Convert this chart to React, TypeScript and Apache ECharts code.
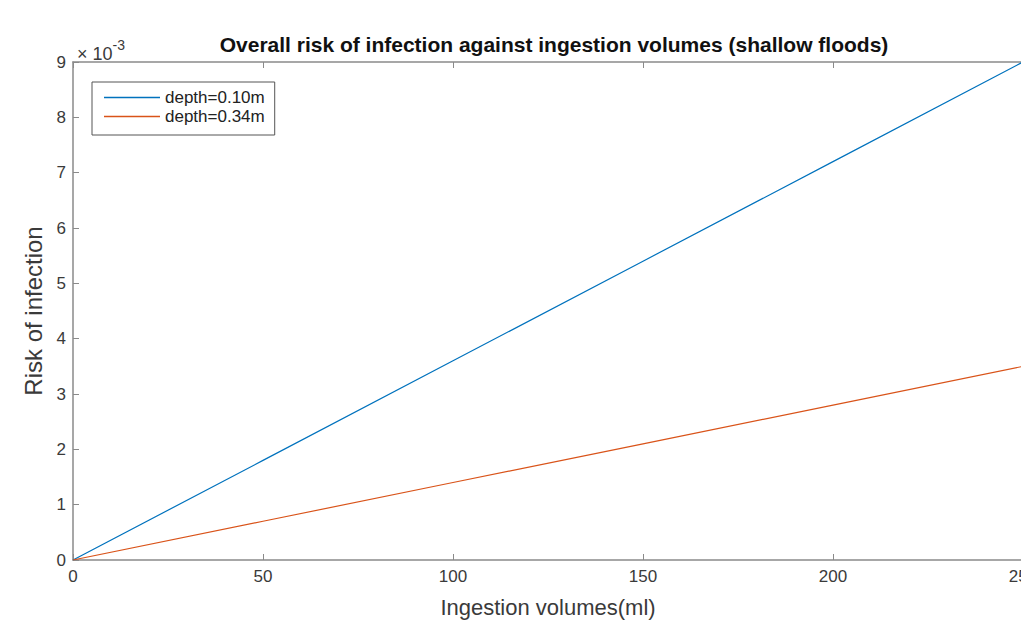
import React, { useEffect, useRef } from "react";
import * as echarts from "echarts";

const volumes = [0, 50, 100, 150, 200, 250];
const risk010 = [0, 1.8, 3.6, 5.4, 7.2, 9.0]; // ×10^-3
const risk034 = [0, 0.7, 1.4, 2.1, 2.8, 3.5]; // ×10^-3
const seriesNames = ["depth=0.10m", "depth=0.34m"];
const titleText = "Overall risk of infection against ingestion volumes (shallow floods)";

const FONT = "'Liberation Sans', Arial, Helvetica, sans-serif";
const AXIS = "#8a8a8a";
const LABEL = "#3a3a3a";

export default function App() {
  const ref = useRef<HTMLDivElement>(null);
  useEffect(() => {
    const chart = echarts.init(ref.current!, undefined, { renderer: "svg" });
    const toPairs = (ys: number[]) => volumes.map((v, i) => [v, ys[i]]);
    chart.setOption({
      animation: false,
      backgroundColor: "#ffffff",
      textStyle: { fontFamily: FONT },
      title: {
        text: titleText,
        left: 549,
        textAlign: "center",
        top: 29,
        textStyle: { fontFamily: FONT, fontSize: 21, fontWeight: "bold", color: "#111" },
      },
      grid: { left: 73, top: 62, width: 950, height: 498, containLabel: false },
      legend: {
        left: 92,
        top: 82,
        orient: "vertical",
        data: seriesNames,
        icon: "rect",
        itemWidth: 56,
        itemHeight: 1.5,
        itemGap: 2,
        padding: [7, 10, 10, 12],
        borderColor: "#555",
        borderWidth: 1,
        backgroundColor: "#fff",
        textStyle: { fontFamily: FONT, fontSize: 17, color: "#222" },
      },
      graphic: [
        {
          type: "text",
          left: 77,
          top: 38,
          style: {
            text: "{a|× 10}{b|-3}",
            fill: LABEL,
            font: `18px ${FONT}`,
            rich: {
              a: { fontFamily: FONT, fontSize: 18, fill: LABEL, verticalAlign: "bottom", padding: [7, 0, 0, 0] },
              b: { fontFamily: FONT, fontSize: 14, fill: LABEL, verticalAlign: "top" },
            },
          },
        },
      ],
      xAxis: [
        {
          type: "value",
          min: 0,
          max: 250,
          interval: 50,
          name: "Ingestion volumes(ml)",
          nameLocation: "middle",
          nameGap: 36,
          nameTextStyle: { fontFamily: FONT, fontSize: 22, color: LABEL },
          axisLine: { show: true, onZero: false, lineStyle: { color: AXIS, width: 1.5 } },
          axisTick: { show: true, inside: true, length: 6, lineStyle: { color: AXIS } },
          axisLabel: { margin: 8, fontSize: 17, color: LABEL, fontFamily: FONT },
          splitLine: { show: false },
        },
        {
          type: "value",
          position: "top",
          min: 0,
          max: 250,
          interval: 50,
          axisLine: { show: true, onZero: false, lineStyle: { color: AXIS, width: 1.5 } },
          axisTick: { show: true, inside: true, length: 6, lineStyle: { color: AXIS } },
          axisLabel: { show: false },
          splitLine: { show: false },
        },
      ],
      yAxis: [
        {
          type: "value",
          min: 0,
          max: 9,
          interval: 1,
          name: "Risk of infection",
          nameLocation: "middle",
          nameGap: 24,
          nameTextStyle: { fontFamily: FONT, fontSize: 24, color: LABEL },
          axisLine: { show: true, onZero: false, lineStyle: { color: AXIS, width: 1.5 } },
          axisTick: { show: true, inside: true, length: 6, lineStyle: { color: AXIS } },
          axisLabel: { margin: 7, fontSize: 17, color: LABEL, fontFamily: FONT },
          splitLine: { show: false },
        },
      ],
      series: [
        {
          name: seriesNames[0],
          type: "line",
          data: toPairs(risk010),
          symbol: "none",
          lineStyle: { color: "#0072BD", width: 1.2 },
          itemStyle: { color: "#0072BD" },
        },
        {
          name: seriesNames[1],
          type: "line",
          data: toPairs(risk034),
          symbol: "none",
          lineStyle: { color: "#D95319", width: 1.2 },
          itemStyle: { color: "#D95319" },
        },
      ],
    });
    return () => chart.dispose();
  }, []);
  return (
    <div
      style={{ position: "fixed", left: 0, top: 0, width: 1021, height: 626, overflow: "hidden", background: "#fff" }}
    >
      <div ref={ref} style={{ width: 1060, height: 626 }} />
    </div>
  );
}
